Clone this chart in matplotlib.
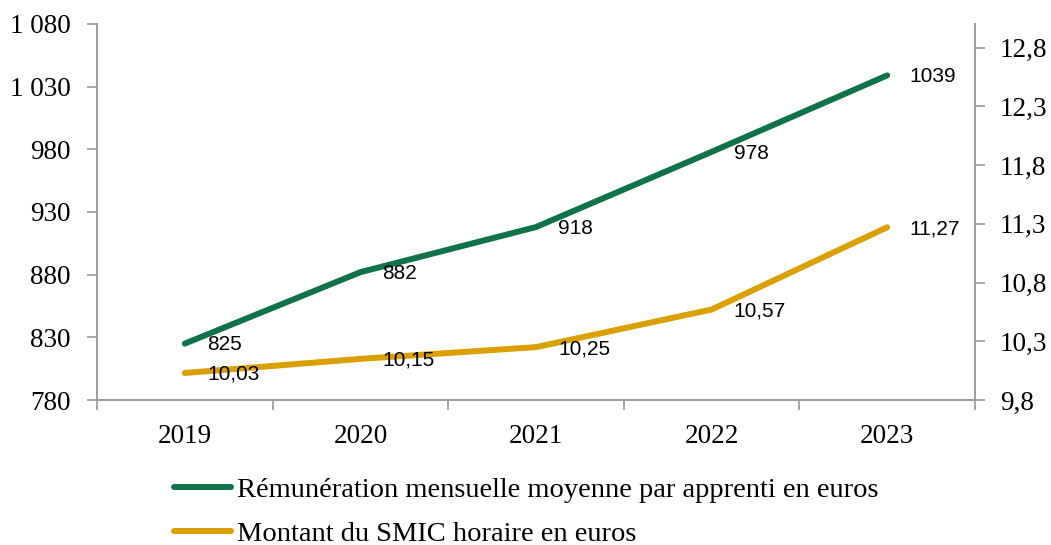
import numpy as np
import matplotlib.pyplot as plt
from matplotlib.lines import Line2D

# Données
annees = ["2019", "2020", "2021", "2022", "2023"]
remuneration = [825, 882, 918, 978, 1039]
smic = [10.03, 10.15, 10.25, 10.57, 11.27]
label_remu = "Rémunération mensuelle moyenne par apprenti en euros"
label_smic = "Montant du SMIC horaire en euros"

vert = "#0F7248"
jaune = "#D9A000"
gris = "#A0A0A0"
serif = ["Liberation Serif", "DejaVu Serif"]

fig = plt.figure(figsize=(10.51, 5.45), dpi=100)
ax1 = fig.add_axes([97 / 1051, 1 - 400 / 545, (975 - 97) / 1051, 376 / 545])
ax2 = ax1.twinx()

x = np.arange(len(annees))
ax1.plot(x, remuneration, color=vert, lw=4.3, solid_capstyle="round", zorder=3)
ax2.plot(x, smic, color=jaune, lw=4.3, solid_capstyle="round", zorder=3)

ax1.set_xlim(-0.5, len(annees) - 0.5)
ax1.set_ylim(780, 1080)
ax2.set_ylim(9.8, 13.0)

ax1.set_yticks(np.arange(780, 1081, 50))
ax1.set_yticklabels([f"{v:,}".replace(",", " ") for v in range(780, 1081, 50)])
rt = np.arange(9.8, 12.81, 0.5)
ax2.set_yticks(rt)
ax2.set_yticklabels([f"{v:.1f}".replace(".", ",") for v in rt])

ax1.set_xticks(x)
ax1.set_xticklabels(annees)
ax1.set_xticks(np.arange(-0.5, len(annees), 1.0), minor=True)
ax1.tick_params(axis="x", which="major", length=0, pad=17)
ax1.tick_params(axis="x", which="minor", length=7, width=1.3, color=gris)

for ax in (ax1, ax2):
    for s in ax.spines.values():
        s.set_color(gris)
        s.set_linewidth(1.4)
    ax.spines["top"].set_visible(False)
    ax.tick_params(axis="y", length=7, width=1.3, color=gris, pad=11)
    for t in ax.get_yticklabels() + ax.get_xticklabels():
        t.set_fontfamily(serif)
        t.set_fontsize(19.5)
ax1.tick_params(axis="y", pad=12)

# Étiquettes de données
for xi, v in zip(x, remuneration):
    ax1.annotate(str(v), (xi, v), xytext=(16, -1), textcoords="offset points",
                 ha="left", va="center", fontsize=15, family="Liberation Sans")
for xi, v in zip(x, smic):
    ax2.annotate(f"{v:.2f}".replace(".", ","), (xi, v), xytext=(16, -1),
                 textcoords="offset points", ha="left", va="center",
                 fontsize=15, family="Liberation Sans")

handles = [Line2D([], [], color=vert, lw=4.3, solid_capstyle="round"),
           Line2D([], [], color=jaune, lw=4.3, solid_capstyle="round")]
fig.legend(handles, [label_remu, label_smic], loc="upper left",
           bbox_to_anchor=(174 / 1051, 1 - 477 / 545), frameon=False,
           prop={"family": serif, "size": 20.5}, handlelength=2.0,
           handletextpad=0.2, labelspacing=0.62, borderpad=0, borderaxespad=0)

fig.savefig("out.png", dpi=100)
